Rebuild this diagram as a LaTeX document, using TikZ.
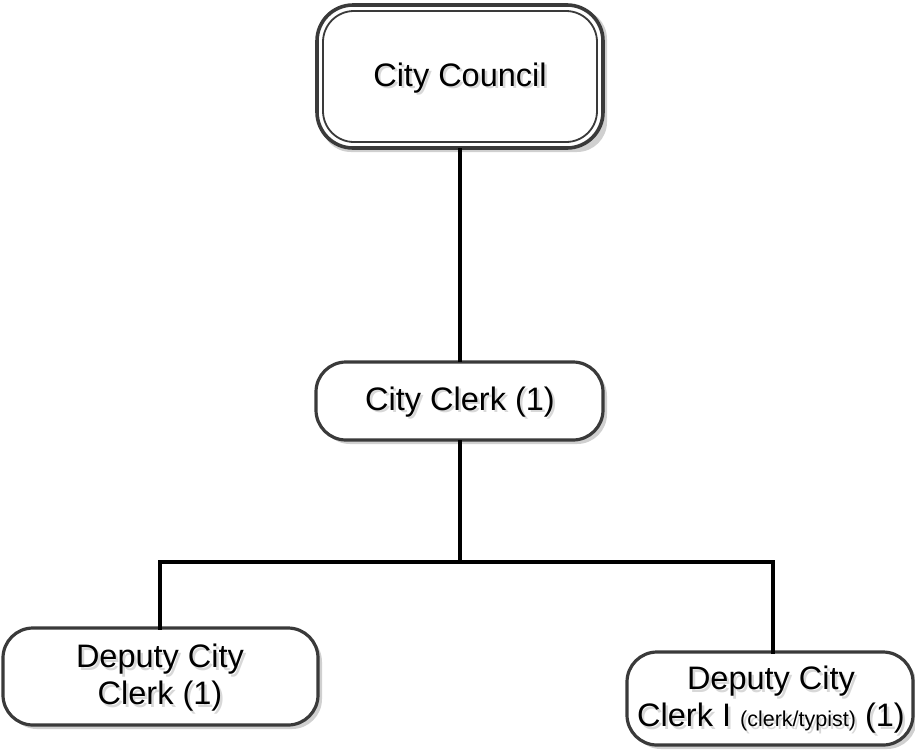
\documentclass[tikz,border=0pt]{standalone}
\usepackage{fontspec}
\setmainfont{Liberation Sans}
\definecolor{edge}{HTML}{3A3A3A}
\definecolor{shade}{HTML}{D0D0D0}
\definecolor{textshade}{HTML}{D8D8D8}
\begin{document}
\begin{tikzpicture}[x=1pt,y=-1pt,
  box/.style={draw=edge, line width=3.2pt, fill=white, rounded corners=30pt},
  shadowbox/.style={fill=shade, rounded corners=30pt},
  label/.style={font=\fontsize{32.5}{37}\selectfont, align=center, inner sep=0pt, text=black},
  labelshade/.style={label, text=textshade},
  wire/.style={draw=black, line width=3.2pt}]
\useasboundingbox (0,0) rectangle (915,750);

% drop shadows of the boxes
\fill[shadowbox] (321,9) rectangle (607,152);
\fill[shadowbox] (320,366) rectangle (607,444);
\fill[shadowbox] (7,632) rectangle (322,729);
\fill[shadowbox] (631,656) rectangle (917,749);

% City Council (double outline)
\draw[box, line width=3.6pt, rounded corners=36pt] (317,5) rectangle (603,148);
\draw[draw=edge, line width=1.8pt, rounded corners=31pt] (323,11) rectangle (597,142);
\node[labelshade] at (462.5,80.5) {City Council};
\node[label] (council) at (460,78) {City Council};

% City Clerk
\draw[box] (316,362) rectangle (603,440);
\node[labelshade] at (462.5,404.5) {City Clerk (1)};
\node[label] (clerk) at (460,402) {City Clerk (1)};

% Deputies
\draw[box] (3,628) rectangle (318,725);
\node[labelshade] at (162.5,680.5) {Deputy City\\Clerk (1)};
\node[label] (dep1) at (160,678) {Deputy City\\Clerk (1)};

\draw[box] (627,652) rectangle (913,745);
\node[labelshade] at (773.5,702.5) {Deputy City\\Clerk I {\fontsize{21.5}{25}\selectfont(clerk/typist)} (1)};
\node[label] (dep2) at (771,700) {Deputy City\\Clerk I {\fontsize{21.5}{25}\selectfont(clerk/typist)} (1)};

% connector anchors on box edges
\coordinate (councilB) at (460,148);
\coordinate (clerkT) at (460,362);
\coordinate (clerkB) at (460,440);
\coordinate (split) at (460,562);
\coordinate (dep1T) at (160,628);
\coordinate (dep2T) at (773,652);

\draw[wire] (councilB) -- (clerkT);
\draw[wire] (clerkB) -- (split);
\draw[wire, line cap=rect] (dep1T) |- (split) -| (dep2T);
\end{tikzpicture}
\end{document}
